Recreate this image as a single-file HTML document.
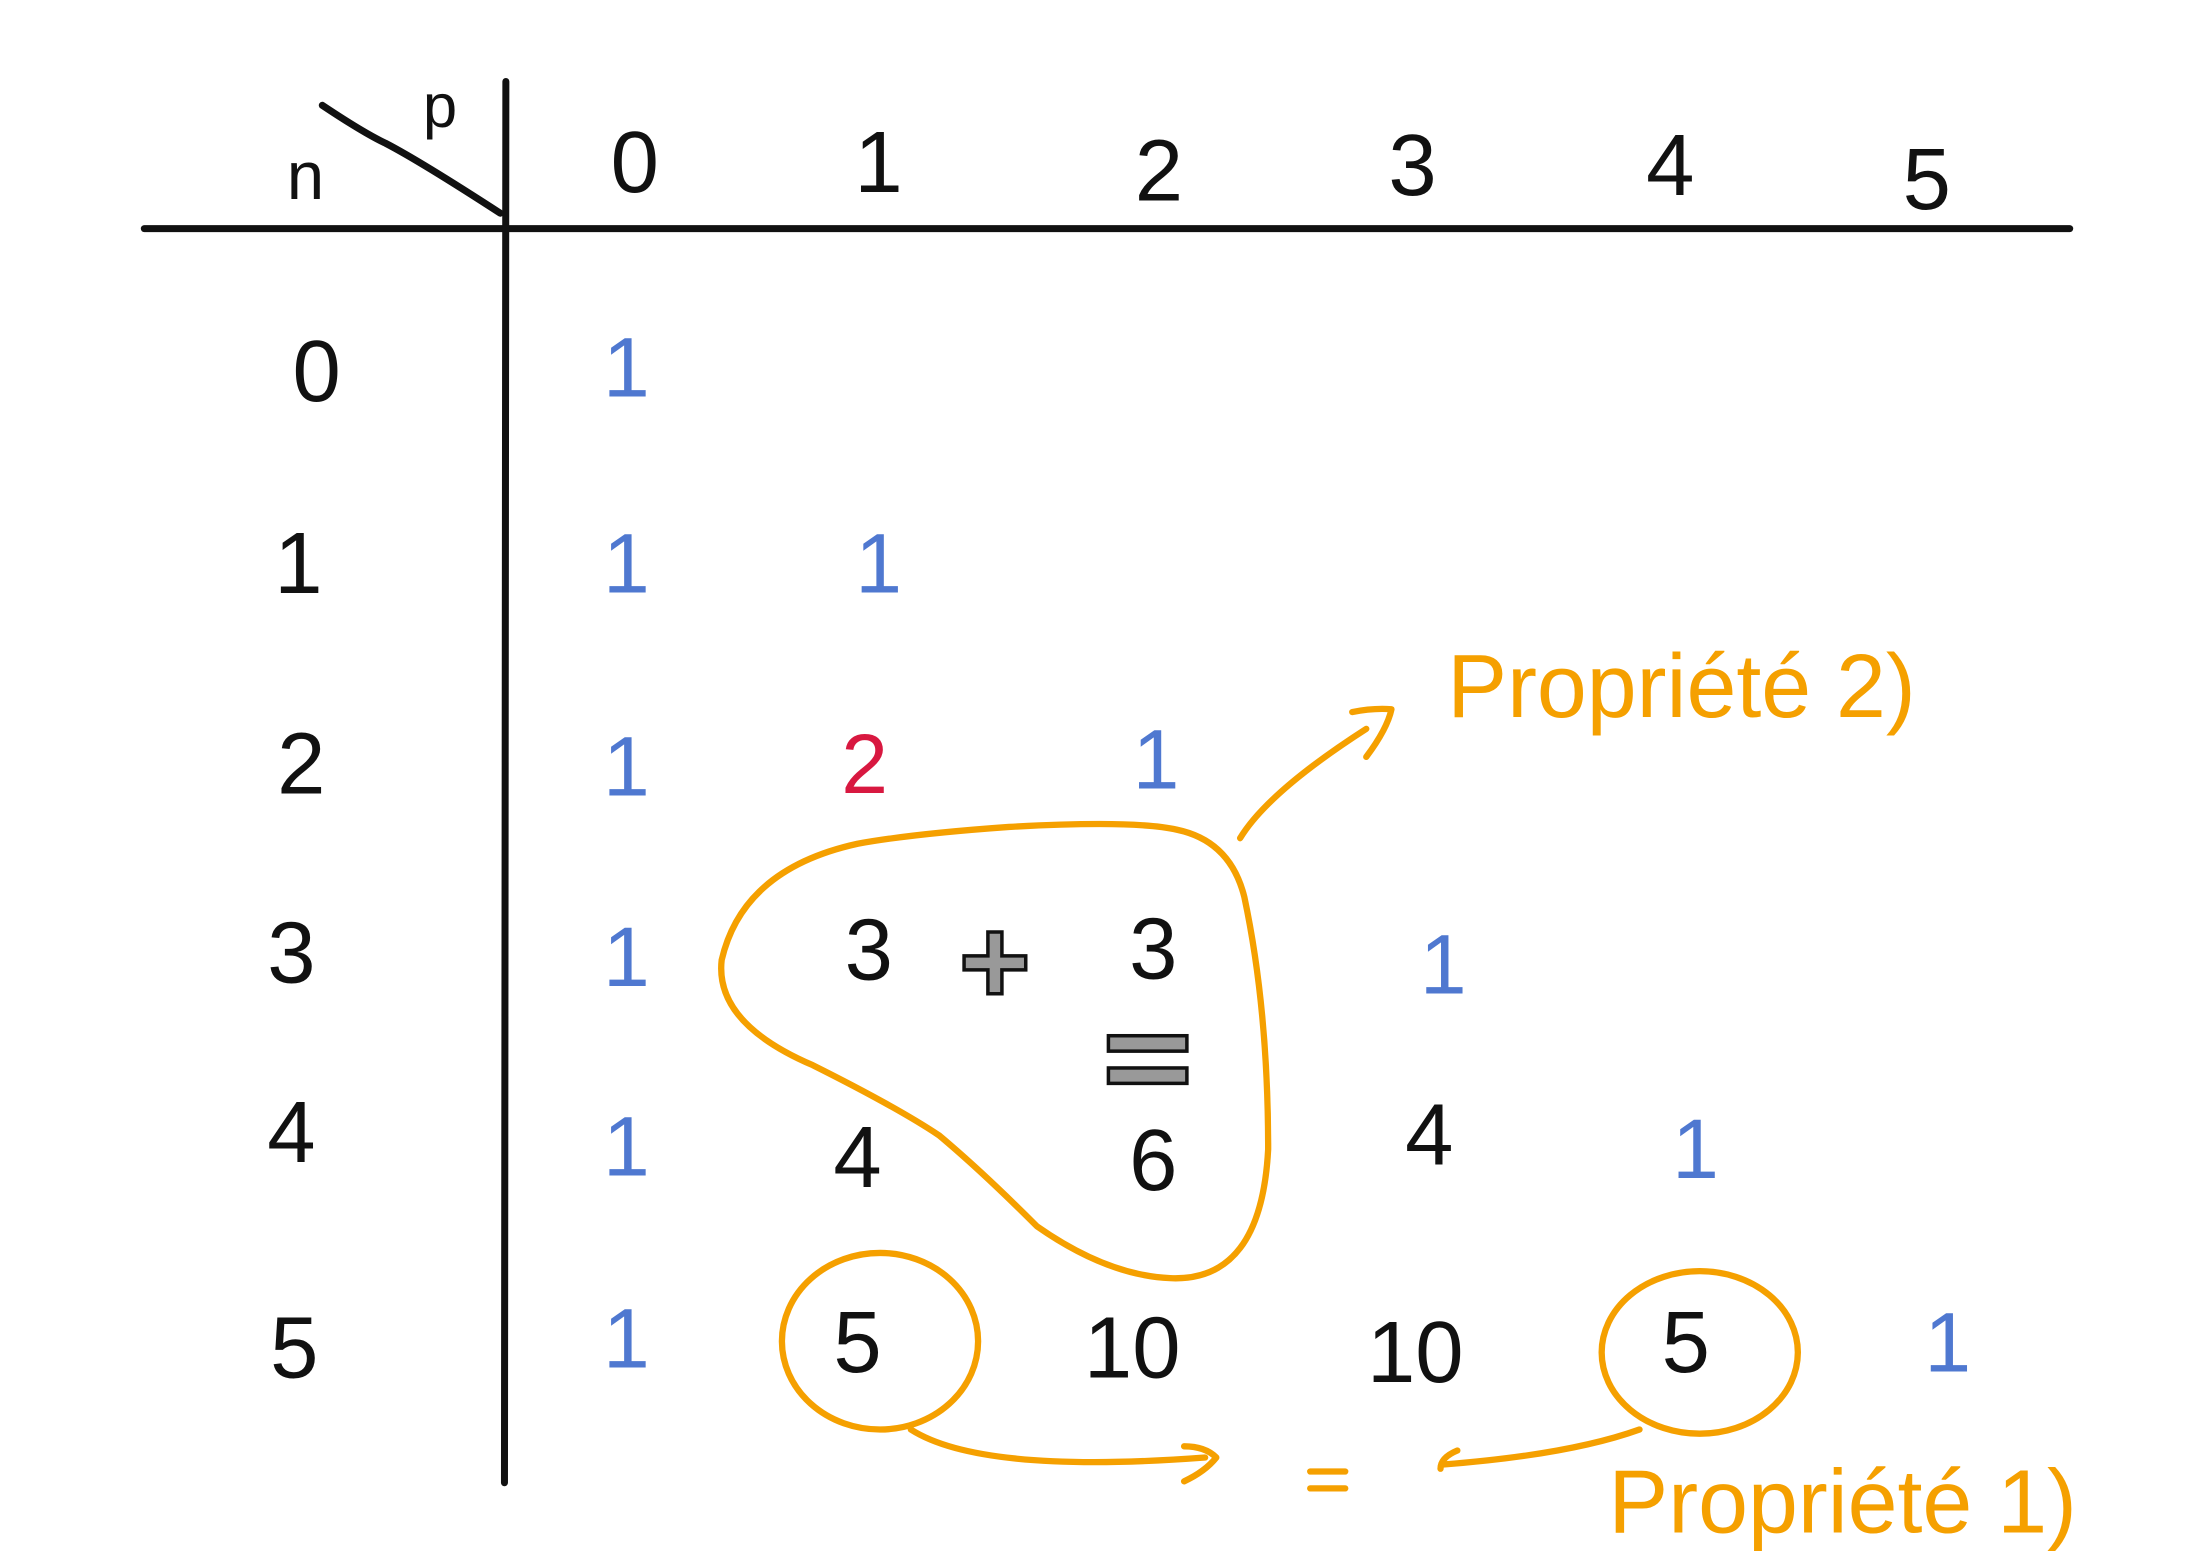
<!DOCTYPE html>
<html><head><meta charset="utf-8"><style>
html,body{margin:0;padding:0;background:#fff;}
svg{display:block;}
text{font-family:"Liberation Sans",sans-serif;text-anchor:middle;dominant-baseline:central;}
.k{fill:#111;font-size:62px;}
.b{fill:#4f78d0;font-size:60px;}
.o{fill:#f5a000;}
</style></head><body>
<svg width="2186" height="1560" viewBox="0 0 1560 1113" xmlns="http://www.w3.org/2000/svg">
<rect width="1560" height="1113" fill="#fff"/>
<g stroke="#111" stroke-width="5" fill="none" stroke-linecap="round">
<line x1="103" y1="163" x2="1477" y2="163"/>
<line x1="361" y1="58" x2="360" y2="1058"/>
<path d="M230 75 Q260 95 275 102 Q300 115 357 152"/>
</g>
<text class="k" x="218" y="126" style="font-size:48px">n</text>
<text class="k" x="314" y="76" style="font-size:44px">p</text>
<text class="k" x="453" y="116">0</text>
<text class="k" x="627" y="116">1</text>
<text class="k" x="827" y="122">2</text>
<text class="k" x="1008" y="118">3</text>
<text class="k" x="1192" y="118">4</text>
<text class="k" x="1375" y="128">5</text>
<text class="k" x="226" y="265">0</text>
<text class="k" x="213" y="402">1</text>
<text class="k" x="215" y="545">2</text>
<text class="k" x="208" y="680">3</text>
<text class="k" x="208" y="808">4</text>
<text class="k" x="210" y="962">5</text>
<text class="b" x="447" y="262">1</text>
<text class="b" x="447" y="402">1</text>
<text class="b" x="627" y="402">1</text>
<text class="b" x="447" y="547">1</text>
<text x="617" y="545" style="fill:#d81840;font-size:60px">2</text>
<text class="b" x="825" y="542">1</text>
<text class="b" x="447" y="683">1</text>
<text class="k" x="620" y="678">3</text>
<text class="k" x="823" y="677">3</text>
<text class="b" x="1030" y="688">1</text>
<text class="b" x="447" y="818">1</text>
<text class="k" x="612" y="826">4</text>
<text class="k" x="823" y="828">6</text>
<text class="k" x="1020" y="810">4</text>
<text class="b" x="1210" y="820">1</text>
<text class="b" x="447" y="955">1</text>
<text class="k" x="612" y="958">5</text>
<text class="k" x="808" y="962">10</text>
<text class="k" x="1010" y="965">10</text>
<text class="k" x="1203" y="958">5</text>
<text class="b" x="1390" y="958">1</text>
<g fill="#999" stroke="#111" stroke-width="2.5">
<path d="M705 665h10v17h17v10h-17v17h-10v-17h-17v-10h17z"/>
<rect x="791" y="739" width="56" height="11"/>
<rect x="791" y="762" width="56" height="11"/>
</g>
<g stroke="#f5a000" stroke-width="4.5" fill="none" stroke-linecap="round" stroke-linejoin="round">
<path d="M612 602 Q530 620 515 685 Q510 730 580 760 Q640 790 670 810 Q700 835 740 875 Q790 910 835 912 Q900 915 905 820 Q905 720 888 640 Q878 600 840 592 Q810 585 720 590 Q650 595 612 602 Z"/>
<path d="M885 598 Q905 565 975 520"/>
<path d="M965 508 Q980 505 993 506 Q990 520 975 540"/>
<ellipse cx="628" cy="957" rx="70" ry="63"/>
<ellipse cx="1213" cy="965" rx="70" ry="58"/>
<path d="M650 1020 Q700 1052 860 1040"/>
<path d="M845 1032 Q860 1032 868 1040 Q860 1050 845 1057"/>
<path d="M935 1050h25 M935 1062h25"/>
<path d="M1170 1020 Q1120 1038 1030 1045"/>
<path d="M1040 1035 Q1028 1040 1028 1048"/>
</g>
<text class="o" x="1200" y="490" style="font-size:64px">Propriété 2)</text>
<text class="o" x="1315" y="1072" style="font-size:64px">Propriété 1)</text>
</svg>
</body></html>
